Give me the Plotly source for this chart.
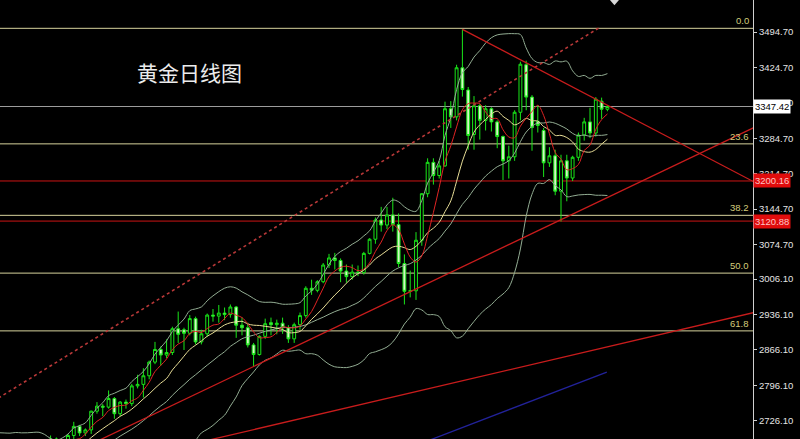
import plotly.graph_objects as go
import pandas as pd

# ---------------- data ----------------
# bar index (daily bars); negative indices = earlier bars (below / left of the view)
pre_open = [2633, 2640, 2650, 2640, 2643, 2650, 2632, 2633, 2660, 2694, 2718, 2680, 2648, 2652,
            2646, 2586, 2595, 2622, 2612, 2617, 2634, 2621, 2607, 2624, 2658, 2640, 2636, 2648]
pre_high = [2645, 2665, 2652, 2650, 2657, 2652, 2645, 2665, 2697, 2726, 2721, 2682, 2660, 2654,
            2650, 2600, 2626, 2630, 2620, 2638, 2640, 2625, 2627, 2664, 2665, 2650, 2660, 2670]
pre_low = [2625, 2638, 2622, 2630, 2637, 2625, 2613, 2630, 2655, 2690, 2675, 2644, 2640, 2640,
           2582, 2583, 2590, 2605, 2610, 2614, 2617, 2597, 2600, 2620, 2628, 2615, 2630, 2645]
pre_close = [2640, 2650, 2640, 2643, 2650, 2632, 2633, 2660, 2694, 2718, 2680, 2648, 2652, 2646,
             2586, 2595, 2622, 2612, 2617, 2634, 2621, 2607, 2624, 2658, 2640, 2636, 2648, 2662]

opens = [2662, 2670, 2690, 2662, 2677, 2697, 2715, 2702, 2708, 2745,
         2755, 2753, 2770, 2740, 2763, 2760, 2795, 2798, 2815, 2842,
         2867, 2856, 2861, 2908, 2906, 2899, 2928, 2882, 2898, 2935,
         2933, 2939, 2936, 2951, 2915, 2910, 2876, 2857, 2893, 2920,
         2916, 2919, 2910, 2888, 2916, 2934, 2988, 2984, 3001, 3034,
         3048, 3043, 3022, 3011, 3020, 3019, 3057, 3085, 3123, 3113,
         3133, 3114, 3037, 2982, 2983, 3083, 3175, 3237, 3211, 3230,
         3343, 3327, 3424, 3380, 3292, 3349, 3320, 3343, 3317, 3288,
         3240, 3248, 3336, 3430, 3366, 3318, 3300, 3236, 3250, 3180,
         3240, 3206, 3247, 3291, 3317, 3295, 3358, 3342]
highs = [2678, 2697, 2693, 2683, 2700, 2724, 2718, 2711, 2746, 2763,
         2759, 2786, 2773, 2765, 2768, 2799, 2817, 2830, 2845, 2882,
         2873, 2887, 2912, 2942, 2910, 2935, 2932, 2906, 2938, 2947,
         2955, 2950, 2956, 2953, 2930, 2920, 2880, 2895, 2928, 2930,
         2926, 2930, 2915, 2920, 2940, 2992, 3005, 3004, 3038, 3056,
         3058, 3047, 3035, 3035, 3033, 3060, 3087, 3128, 3149, 3149,
         3167, 3136, 3055, 3023, 3099, 3176, 3245, 3245, 3240, 3357,
         3358, 3430, 3500, 3386, 3368, 3352, 3350, 3346, 3320, 3290,
         3270, 3340, 3436, 3438, 3370, 3350, 3305, 3267, 3262, 3252,
         3252, 3250, 3296, 3325, 3345, 3366, 3365, 3350]
lows = [2657, 2665, 2656, 2660, 2668, 2690, 2696, 2696, 2700, 2740,
        2735, 2750, 2730, 2735, 2750, 2755, 2790, 2772, 2808, 2838,
        2835, 2850, 2856, 2880, 2866, 2895, 2877, 2877, 2892, 2922,
        2920, 2925, 2930, 2890, 2895, 2871, 2833, 2855, 2888, 2895,
        2897, 2898, 2880, 2880, 2906, 2930, 2975, 2980, 2998, 3028,
        3025, 3000, 2999, 3005, 3012, 3015, 3055, 3076, 3100, 3105,
        3100, 3030, 2956, 2970, 2965, 3072, 3168, 3193, 3205, 3228,
        3305, 3320, 3367, 3262, 3262, 3282, 3300, 3298, 3265, 3202,
        3205, 3240, 3320, 3340, 3260, 3296, 3208, 3228, 3172, 3120,
        3160, 3200, 3240, 3280, 3285, 3288, 3323, 3338]
closes = [2670, 2690, 2662, 2677, 2697, 2715, 2702, 2708, 2745, 2755,
          2753, 2770, 2740, 2763, 2760, 2795, 2798, 2815, 2842, 2867,
          2856, 2861, 2908, 2897, 2899, 2928, 2882, 2898, 2935, 2933,
          2939, 2936, 2951, 2915, 2910, 2876, 2857, 2893, 2918, 2916,
          2919, 2910, 2888, 2916, 2934, 2988, 2984, 3001, 3034, 3048,
          3043, 3022, 3011, 3020, 3019, 3057, 3085, 3123, 3113, 3133,
          3114, 3037, 2982, 2983, 3083, 3175, 3237, 3211, 3230, 3343,
          3327, 3424, 3381, 3290, 3349, 3320, 3343, 3317, 3288, 3240,
          3248, 3336, 3431, 3366, 3306, 3310, 3236, 3250, 3180, 3240,
          3206, 3247, 3291, 3317, 3295, 3362, 3342, 3347.42]

first_index = -28

# horizontal levels
current_price = 3347.42
red_levels = [3200.16, 3120.88]
fib_high, fib_low = 3502, 2534
fib_ratios = [0.0, 23.6, 38.2, 50.0, 61.8]
tick_values = [3494.70, 3424.70, 3354.70, 3284.70, 3214.70, 3144.70, 3074.70,
               3006.10, 2936.10, 2866.10, 2796.10, 2726.10]

# trend lines: (bar index, price) anchors
dotted_idx, dotted_px = [-8, 95.7], [2771, 3504]
down_idx, down_px = [72, 122.5], [3500, 3197]
up1_idx, up1_px = [8, 122.5], [2680, 3307]
up2_idx, up2_px = [27, 122.5], [2684.4, 2940.7]
blue_idx, blue_px = [66, 96.9], [2686.2, 2822.4]

title_text = "黄金日线图"

# ---------------- build ----------------
o = pre_open + opens
h = pre_high + highs
l = pre_low + lows
c = pre_close + closes
idx = list(range(first_index, first_index + len(c)))
df = pd.DataFrame({"i": idx, "o": o, "h": h, "l": l, "c": c})
df["ma5"] = df["c"].rolling(5).mean()
df["ma10"] = df["c"].rolling(10).mean()
df["mid"] = df["c"].rolling(20).mean()
sd = df["c"].rolling(20).std(ddof=0)
df["up"] = df["mid"] + 2 * sd
df["dn"] = df["mid"] - 2 * sd

fig = go.Figure()

band_col = "#93ad93"
for col, color in [("up", band_col), ("dn", band_col), ("mid", band_col),
                   ("ma10", "#e6dc96"), ("ma5", "#e02424")]:
    fig.add_trace(go.Scatter(x=df["i"], y=df[col], mode="lines",
                             line=dict(color=color, width=1, shape="spline"),
                             hoverinfo="skip"))

fig.add_trace(go.Scatter(x=dotted_idx, y=dotted_px, mode="lines",
                         line=dict(color="#b83838", width=1.6, dash="dot")))
for xs, ys in [(down_idx, down_px), (up1_idx, up1_px), (up2_idx, up2_px)]:
    fig.add_trace(go.Scatter(x=xs, y=ys, mode="lines",
                             line=dict(color="#c81c1c", width=1.3)))
fig.add_trace(go.Scatter(x=blue_idx, y=blue_px, mode="lines",
                         line=dict(color="#22229a", width=1.3)))

fig.add_trace(go.Candlestick(
    x=df["i"], open=df["o"], high=df["h"], low=df["l"], close=df["c"],
    increasing=dict(line=dict(color="#19e619", width=1), fillcolor="#000000"),
    decreasing=dict(line=dict(color="#19e619", width=1), fillcolor="#d4f5c4"),
    whiskerwidth=0, hoverinfo="skip"))

shapes = []
annotations = []
fib_col = "#d6d29c"
for r in fib_ratios:
    lvl = fib_high - r / 100.0 * (fib_high - fib_low)
    shapes.append(dict(type="line", xref="paper", x0=0, x1=1, yref="y", y0=lvl, y1=lvl,
                       line=dict(color=fib_col, width=1), layer="below"))
    annotations.append(dict(xref="paper", x=0.997, yref="y", y=lvl, text=f"{r:.1f}",
                            showarrow=False, xanchor="right", yanchor="bottom",
                            font=dict(family="Liberation Sans", size=9.5, color="#d4cc7c")))
shapes.append(dict(type="line", xref="paper", x0=0, x1=1, yref="y",
                   y0=current_price, y1=current_price,
                   line=dict(color="#9c9c9c", width=1), layer="below"))
for lvl in red_levels:
    shapes.append(dict(type="line", xref="paper", x0=0, x1=1, yref="y", y0=lvl, y1=lvl,
                       line=dict(color="#cc1414", width=1), layer="below"))
    annotations.append(dict(xref="paper", x=1, yref="y", y=lvl, text=f"{lvl:.2f}",
                            showarrow=False, xanchor="left", yanchor="middle",
                            bgcolor="#e00c0c", borderpad=1,
                            font=dict(family="Liberation Sans", size=9.5, color="#ffc4c4")))
annotations.append(dict(xref="paper", x=1, yref="y", y=current_price, text=f"{current_price:.2f}",
                        showarrow=False, xanchor="left", yanchor="middle",
                        bgcolor="#ffffff", borderpad=1,
                        font=dict(family="Liberation Sans", size=9.5, color="#000000")))
annotations.append(dict(xref="paper", x=0.251, yref="paper", y=0.836, text=title_text,
                        showarrow=False, xanchor="center", yanchor="middle",
                        font=dict(family="Noto Sans CJK SC", size=21, color="#ececec")))

# small chart-shift marker at the top edge
shapes.append(dict(type="path", xref="paper", yref="paper",
                   path="M 0.810 1 L 0.822 1 L 0.816 0.988 Z",
                   fillcolor="#d8d8d8", line=dict(width=0)))

fig.update_layout(
    width=800, height=439,
    margin=dict(l=0, r=47, t=0, b=0),
    paper_bgcolor="#000000", plot_bgcolor="#000000",
    showlegend=False,
    shapes=shapes, annotations=annotations,
    xaxis=dict(range=[-7.72, 122.1], visible=False, rangeslider=dict(visible=False),
               showgrid=False, zeroline=False),
    yaxis=dict(range=[2690, 3558], side="right", showgrid=False, zeroline=False,
               showline=True, linecolor="#d0d0d0", linewidth=1,
               ticks="outside", ticklen=3, tickcolor="#d0d0d0",
               tickvals=tick_values, ticktext=[f"{v:.2f}" for v in tick_values],
               tickfont=dict(family="Liberation Sans", size=9.5, color="#e4e4e4")),
)

fig.write_html("out.html", config={"displayModeBar": False},
               post_script="document.body.style.margin='0';document.body.style.background='#000';")
